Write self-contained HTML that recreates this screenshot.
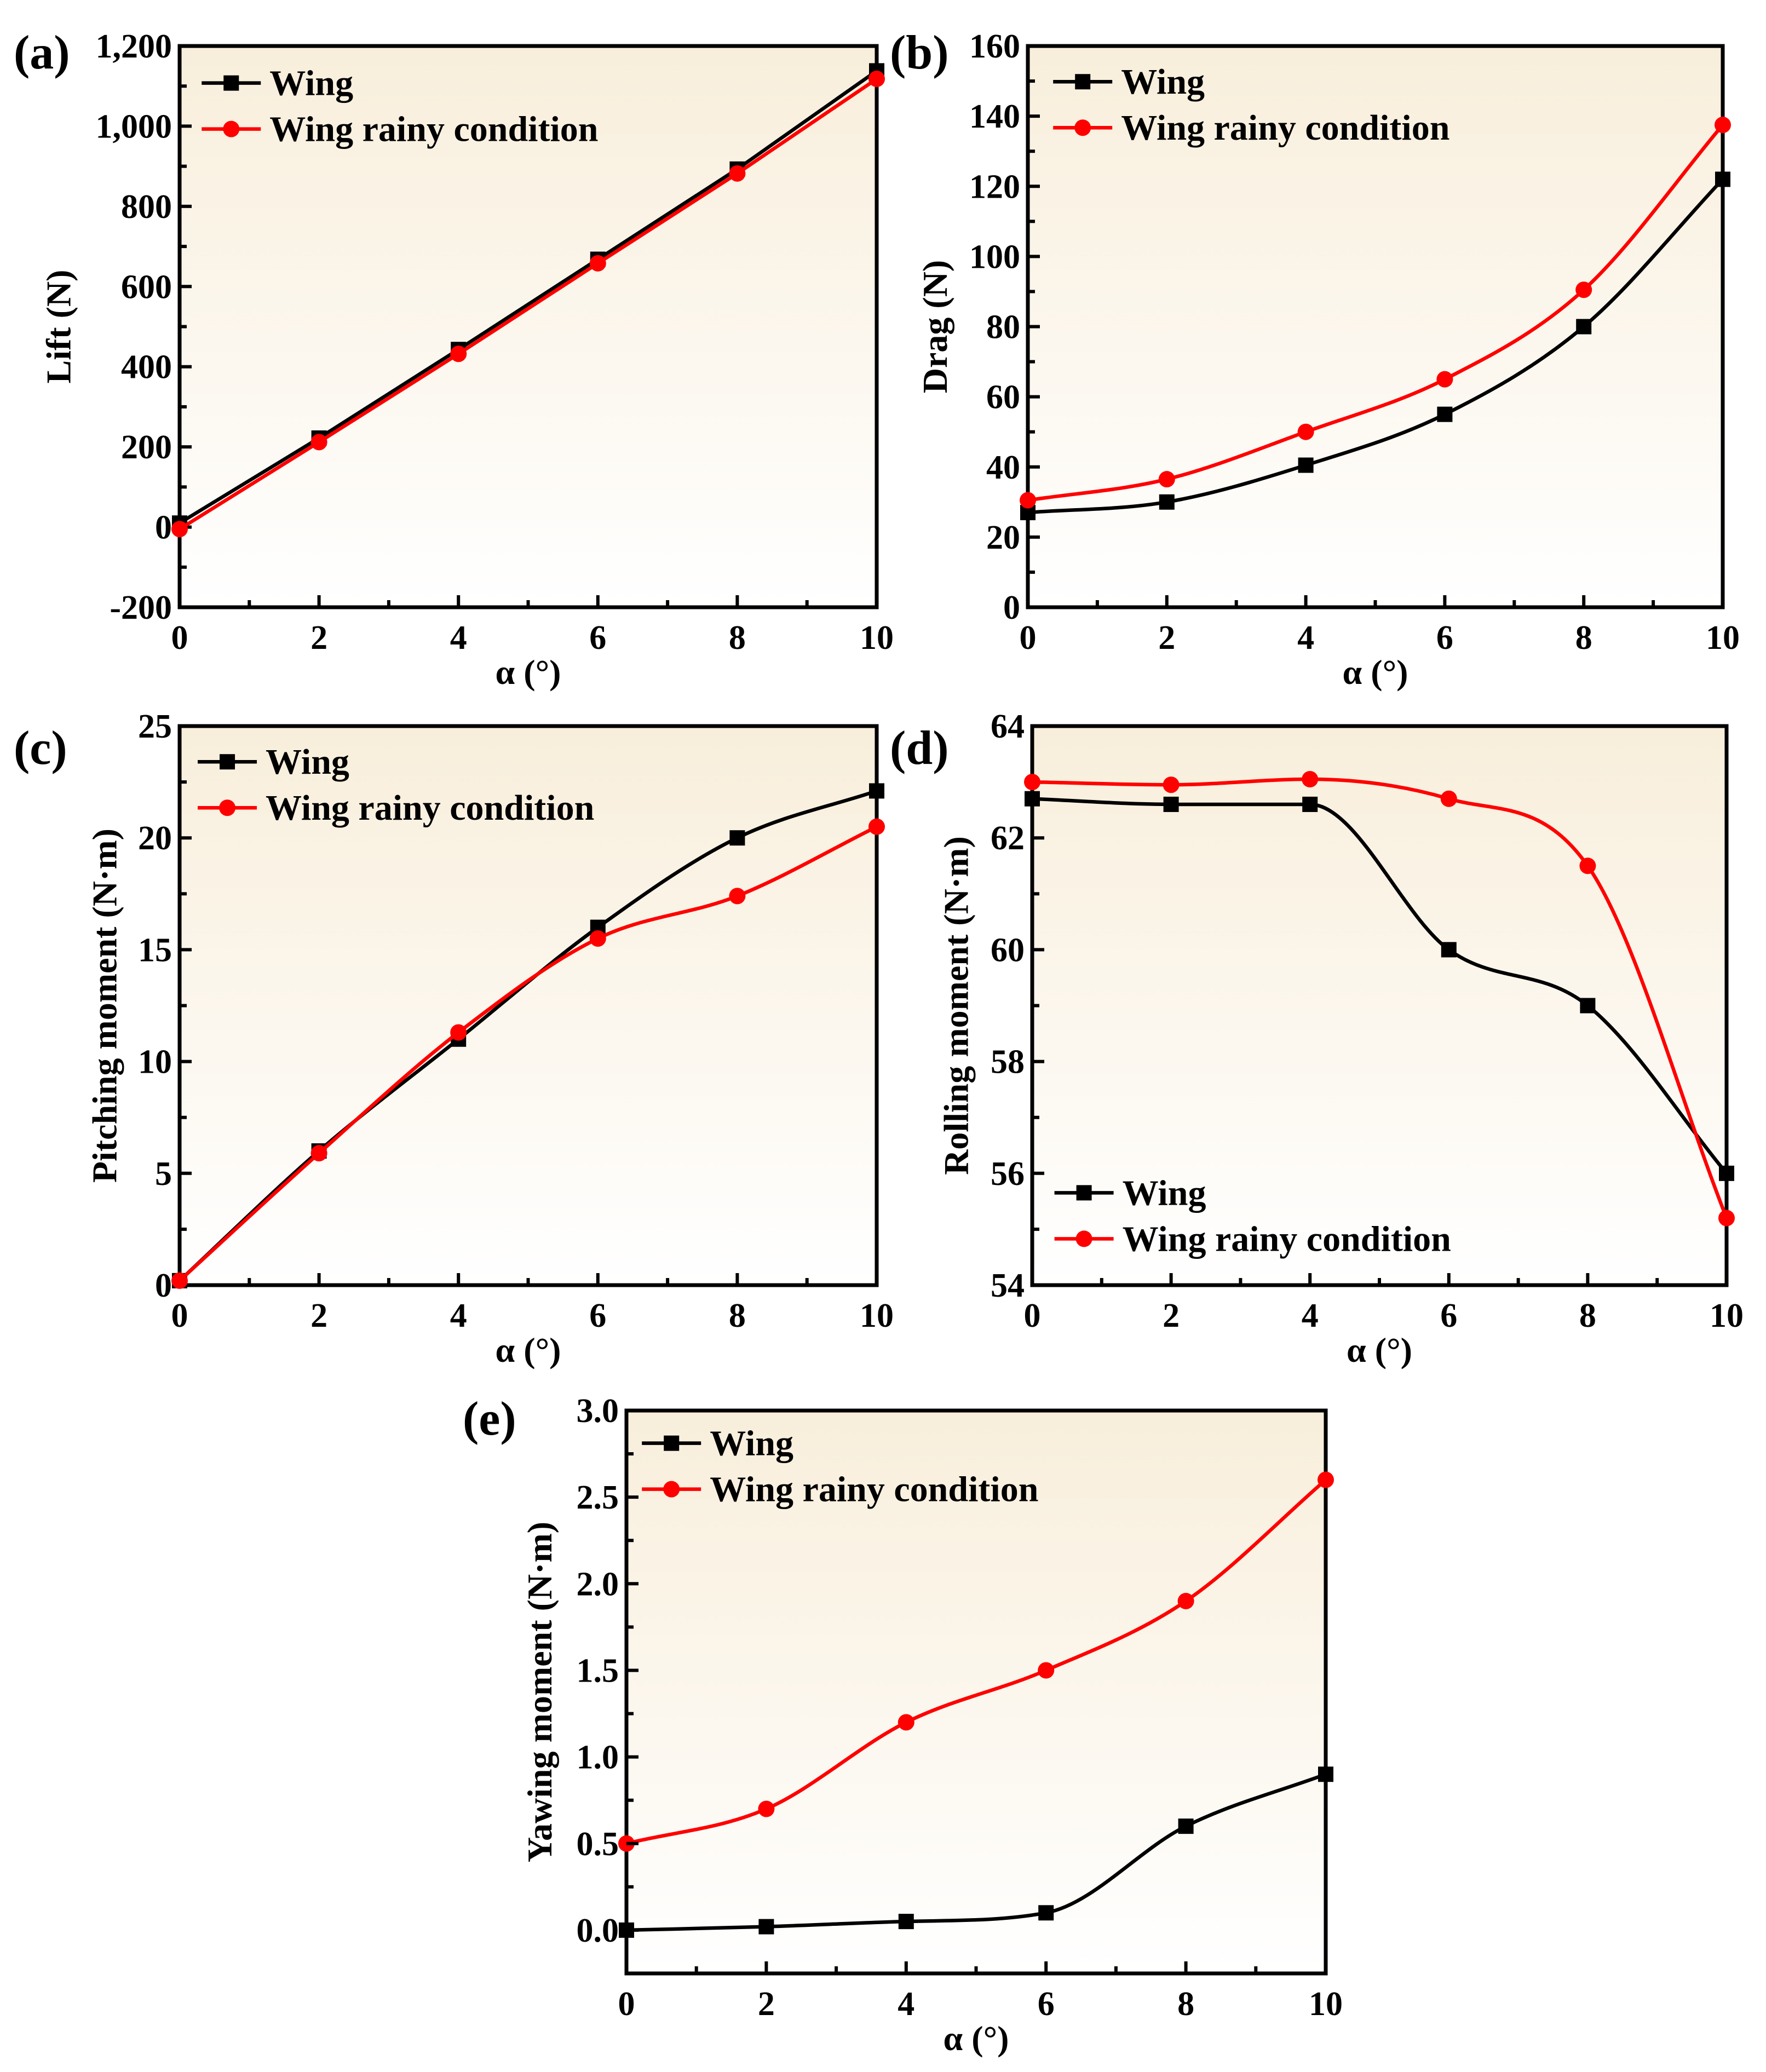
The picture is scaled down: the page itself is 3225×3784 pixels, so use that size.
<!DOCTYPE html>
<html><head><meta charset="utf-8"><style>
html,body{margin:0;padding:0;background:#fff}
svg{display:block}
text{font-family:"Liberation Serif",serif;font-weight:bold;fill:#000}
</style></head><body>
<svg id="fig" xmlns="http://www.w3.org/2000/svg" width="3225" height="3784" viewBox="0 0 3225 3784">
<defs><linearGradient id="bg" x1="0" y1="0" x2="0" y2="1"><stop offset="0" stop-color="#f8eedb"/><stop offset="1" stop-color="#ffffff"/></linearGradient></defs>
</svg>
<script>
const alphaVals=[0,2,4,6,8,10];
const liftWing=[10,222,443,668,893,1138];
const liftRainy=[-5,212,432,658,882,1118];
const dragWing=[27,30,40.5,55,80,122];
const dragRainy=[30.5,36.5,50,65,90.5,137.5];
const pitchWing=[0.2,6,11,16,20,22.1];
const pitchRainy=[0.2,5.9,11.3,15.5,17.4,20.5];
const rollWing=[62.7,62.6,62.6,60,59,56];
const rollRainy=[63,62.95,63.05,62.7,61.5,55.2];
const yawWing=[0,0.02,0.05,0.1,0.6,0.9];
const yawRainy=[0.5,0.7,1.2,1.5,1.9,2.6];
const xTickLabels=["0","2","4","6","8","10"];
const liftTicks=["-200","0","200","400","600","800","1,000","1,200"];
const dragTicks=["0","20","40","60","80","100","120","140","160"];
const pitchTicks=["0","5","10","15","20","25"];
const rollTicks=["54","56","58","60","62","64"];
const yawTicks=["0.0","0.5","1.0","1.5","2.0","2.5","3.0"];

const NS="http://www.w3.org/2000/svg";
const svg=document.getElementById('fig');
function mk(tag,attrs,parent){const e=document.createElementNS(NS,tag);for(const k in attrs)e.setAttribute(k,attrs[k]);(parent||svg).appendChild(e);return e;}
function txt(s,attrs,parent){const e=mk('text',attrs,parent);e.textContent=s;return e;}

function monoPath(pts){
  const n=pts.length;const dx=[],sl=[];
  for(let i=0;i<n-1;i++){dx.push(pts[i+1][0]-pts[i][0]);sl.push((pts[i+1][1]-pts[i][1])/dx[i]);}
  const m=[sl[0]];
  for(let i=1;i<n-1;i++){m.push(sl[i-1]*sl[i]<=0?0:(sl[i-1]+sl[i])/2);}
  m.push(sl[n-2]);
  for(let i=0;i<n-1;i++){
    if(sl[i]===0){m[i]=0;m[i+1]=0;continue;}
    const a=m[i]/sl[i],b=m[i+1]/sl[i],s=a*a+b*b;
    if(s>9){const t=3/Math.sqrt(s);m[i]=t*a*sl[i];m[i+1]=t*b*sl[i];}
  }
  let d='M'+pts[0][0]+','+pts[0][1];
  for(let i=0;i<n-1;i++){
    const h=dx[i]/3;
    d+=` C${pts[i][0]+h},${pts[i][1]+m[i]*h} ${pts[i+1][0]-h},${pts[i+1][1]-m[i+1]*h} ${pts[i+1][0]},${pts[i+1][1]}`;
  }
  return d;
}

function panel(cfg){
  const g=mk('g',{});
  
  
  const L=cfg.L,R=cfg.R,T=cfg.T,B=cfg.B;
  const xs=v=>L+(v-0)/10*(R-L);
  const ys=v=>B-(v-cfg.ymin)/(cfg.ymax-cfg.ymin)*(B-T);
  const bg=mk('rect',{x:L,y:T,width:R-L,height:B-T,fill:'url(#bg)'},g);
  
  
  for(let v=0;v<=10;v++){
    const major=v%2===0;
    mk('line',{x1:xs(v),x2:xs(v),y1:B,y2:B-(major?22:13),stroke:'#000','stroke-width':6},g);
  }
  xTickLabels.forEach((s,i)=>{
    const t=txt(s,{x:xs(alphaVals[i]),y:B+76,'font-size':62,'text-anchor':'middle'},g);
    
    
  });
  const n=cfg.yticks.length;
  const step=(cfg.ymax-cfg.ymin)/(n-1);
  for(let i=0;i<n;i++){
    const v=cfg.ymin+i*step;
    mk('line',{x1:L,x2:L+22,y1:ys(v),y2:ys(v),stroke:'#000','stroke-width':6},g);
    if(i<n-1) mk('line',{x1:L,x2:L+13,y1:ys(v+step/2),y2:ys(v+step/2),stroke:'#000','stroke-width':6},g);
    const t=txt(cfg.yticks[i],{x:L-14,y:ys(v)+21,'font-size':62,'text-anchor':'end'},g);
    
    
  }
  const fr=mk('rect',{x:L,y:T,width:R-L,height:B-T,fill:'none',stroke:'#000','stroke-width':7},g);
  
  
  const xt=txt('α (°)',{x:(L+R)/2,y:B+140,'font-size':64,'text-anchor':'middle'},g);
  
  
  const yt=txt(cfg.ytitle,{x:0,y:0,'font-size':64,'text-anchor':'middle',transform:`translate(${cfg.ytx},${(T+B)/2}) rotate(-90)`},g);
  
  
  const pl=txt(cfg.label,{x:cfg.lx,y:cfg.ly,'font-size':88},g);
  
  
  const series=[{d:cfg.s1,c:'#000',m:'sq',n:'Wing'},{d:cfg.s2,c:'#f00',m:'ci',n:'Wing rainy condition'}];
  series.forEach((s,si)=>{
    const pts=alphaVals.map((a,i)=>[xs(a),ys(s.d[i])]);
    let d;
    if(cfg.straight){d='M'+pts.map(p=>p[0]+','+p[1]).join(' L');}
    else d=monoPath(pts);
    const line=mk('path',{d:d,fill:'none',stroke:s.c,'stroke-width':6.5},g);
    
    
    pts.forEach(p=>{
      let m;
      if(s.m==='sq') m=mk('rect',{x:p[0]-14,y:p[1]-14,width:28,height:28,fill:s.c},g);
      else m=mk('circle',{cx:p[0],cy:p[1],r:15,fill:s.c},g);
      
      
    });
    const ly=cfg.legY+si*84;
    const lg=mk('g',{},g);
    
    
    mk('line',{x1:cfg.legX,x2:cfg.legX+108,y1:ly,y2:ly,stroke:s.c,'stroke-width':6.5},lg);
    if(s.m==='sq') mk('rect',{x:cfg.legX+40,y:ly-14,width:28,height:28,fill:s.c},lg);
    else mk('circle',{cx:cfg.legX+54,cy:ly,r:15,fill:s.c},lg);
    txt(s.n,{x:cfg.legX+124,y:ly+22,'font-size':66},lg);
  });
}
const k=2.407;
panel({name:'lift-chart',L:328,R:1601,T:84,B:1109,ymin:-200,ymax:1200,yticks:liftTicks,s1:liftWing,s2:liftRainy,straight:true,ytitle:'Lift (N)',ytx:45*k+20,label:'(a)',lx:25,ly:125,legX:153*k,legY:63*k});
panel({name:'drag-chart',L:1877,R:3146,T:84,B:1109,ymin:0,ymax:160,yticks:dragTicks,s1:dragWing,s2:dragRainy,ytitle:'Drag (N)',ytx:710*k+20,label:'(b)',lx:1625,ly:125,legX:799*k,legY:62*k});
panel({name:'pitching-moment-chart',L:328,R:1601,T:1326,B:2347,ymin:0,ymax:25,yticks:pitchTicks,s1:pitchWing,s2:pitchRainy,ytitle:'Pitching moment (N·m)',ytx:80*k+20,label:'(c)',lx:25,ly:1395,legX:150*k,legY:578*k});
panel({name:'rolling-moment-chart',L:1885,R:3153,T:1326,B:2347,ymin:54,ymax:64,yticks:rollTicks,s1:rollWing,s2:rollRainy,ytitle:'Rolling moment (N·m)',ytx:726*k+20,label:'(d)',lx:1625,ly:1395,legX:800*k,legY:905*k});
panel({name:'yawing-moment-chart',L:1144,R:2421,T:2576,B:3604,ymin:-0.25,ymax:3.0,yticks:[],s1:yawWing,s2:yawRainy,ytitle:'Yawing moment (N·m)',ytx:410*k+20,label:'(e)',lx:845,ly:2620,legX:487*k,legY:1095*k});
(function(){
  const L=1144,T=2576,B=3604,ymin=-0.25,ymax=3.0;
  const ys=v=>B-(v-ymin)/(ymax-ymin)*(B-T);
  yawTicks.forEach((s,i)=>{
    const v=i*0.5;
    mk('line',{x1:L,x2:L+22,y1:ys(v),y2:ys(v),stroke:'#000','stroke-width':6});
    mk('line',{x1:L,x2:L+13,y1:ys(v-0.25),y2:ys(v-0.25),stroke:'#000','stroke-width':6});
    const t=txt(s,{x:L-14,y:ys(v)+21,'font-size':62,'text-anchor':'end'});
    
    
  });
})();
</script>
</body></html>
